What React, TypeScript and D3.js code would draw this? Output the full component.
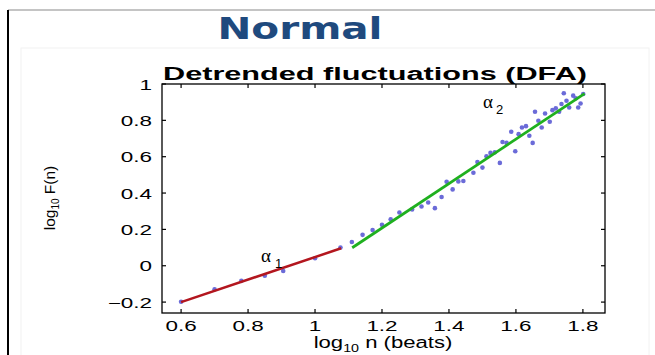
import * as d3 from 'd3';

// log10 n (beats) vs log10 F(n)
const pointsX = [
  0.6, 0.7, 0.78, 0.85, 0.905, 1.0, 1.076, 1.11, 1.142, 1.172, 1.2, 1.226, 1.252, 1.29, 1.318,
  1.338, 1.358, 1.378, 1.393, 1.411, 1.428, 1.443, 1.473, 1.485, 1.5, 1.512, 1.524, 1.537,
  1.552, 1.56, 1.572, 1.586, 1.598, 1.608, 1.618, 1.63, 1.64, 1.65, 1.657, 1.667, 1.677,
  1.687, 1.701, 1.709, 1.719, 1.729, 1.736, 1.743, 1.751, 1.759, 1.771, 1.779, 1.786, 1.793, 1.801,
];
const pointsY = [
  -0.198, -0.13, -0.083, -0.055, -0.029, 0.041, 0.1, 0.131, 0.17, 0.196, 0.225, 0.256, 0.293, 0.31, 0.326,
  0.348, 0.317, 0.378, 0.462, 0.42, 0.464, 0.466, 0.512, 0.571, 0.54, 0.602, 0.621, 0.624,
  0.566, 0.681, 0.676, 0.737, 0.63, 0.724, 0.761, 0.768, 0.715, 0.676, 0.847, 0.798, 0.761,
  0.838, 0.792, 0.856, 0.866, 0.847, 0.89, 0.949, 0.908, 0.871, 0.936, 0.921, 0.871, 0.893, 0.945,
];

// fitted segments
const fit1X = [0.6, 1.078];
const fit1Y = [-0.2, 0.096];
const fit2X = [1.111, 1.805];
const fit2Y = [0.099, 0.947];

const xTicks = [0.6, 0.8, 1, 1.2, 1.4, 1.6, 1.8];
const yTicks = [-0.2, 0, 0.2, 0.4, 0.6, 0.8, 1];

const fmt = (v: number) => {
  if (v === 0 || v === 1) return String(v);
  const s = d3.format('.1f')(Math.abs(v));
  return v < 0 ? '\u2212' + s : s;
};

const SANS = '"Liberation Sans", Arial, sans-serif';

export default function App() {
  const left = 162, right = 605, top = 84, bottom = 313;
  const x = d3.scaleLinear().domain([0.543, 1.866]).range([left, right]);
  const y = d3.scaleLinear().domain([-0.26, 1]).range([bottom, top]);
  const line = d3.line<[number, number]>().x(d => x(d[0])).y(d => y(d[1]));
  const seg1 = fit1X.map((v, i) => [v, fit1Y[i]] as [number, number]);
  const seg2 = fit2X.map((v, i) => [v, fit2Y[i]] as [number, number]);

  return (
    <svg width={655} height={355} style={{ position: 'absolute', left: 0, top: 0, background: '#fff' }}>
      {/* slide frame */}
      <line x1={8} x2={655} y1={10} y2={10} stroke="#c4c4c4" strokeWidth={2} />
      <line x1={8} x2={8} y1={10} y2={355} stroke="#000" strokeWidth={2} />
      <rect x={21} y={48} width={628} height={320} fill="none" stroke="#f2f2f2" />

      <text x={300} y={39} textAnchor="middle" textLength={165} lengthAdjust="spacingAndGlyphs"
        fontFamily='"DejaVu Sans", Verdana, sans-serif' fontWeight="bold" fontSize={31} fill="#1f4a7e">
        Normal
      </text>

      <text x={375} y={80} textAnchor="middle" textLength={424} lengthAdjust="spacingAndGlyphs"
        fontFamily={SANS} fontWeight="bold" fontSize={18} fill="#000">
        Detrended fluctuations (DFA)
      </text>

      {/* data */}
      {pointsX.map((v, i) => (
        <circle key={i} cx={x(v)} cy={y(pointsY[i])} r={2.3} fill="#6b6bd8" />
      ))}
      <path d={line(seg1) ?? ''} stroke="#b3161e" strokeWidth={2.5} fill="none" />
      <path d={line(seg2) ?? ''} stroke="#1fb01f" strokeWidth={2.8} fill="none" />

      {/* axes box with inward ticks */}
      <rect x={left} y={top} width={right - left} height={bottom - top} fill="none" stroke="#000" strokeWidth={1.3} />
      {xTicks.map(t => (
        <g key={'x' + t}>
          <line x1={x(t)} x2={x(t)} y1={bottom} y2={bottom - 4} stroke="#000" strokeWidth={1.2} />
          <line x1={x(t)} x2={x(t)} y1={top} y2={top + 4} stroke="#000" strokeWidth={1.2} />
          <text transform={`translate(${x(t)},331) scale(1.55,1)`} textAnchor="middle" fontFamily={SANS} fontSize={14.5}>{fmt(t)}</text>
        </g>
      ))}
      {yTicks.map(t => (
        <g key={'y' + t}>
          <line x1={left} x2={left + 4} y1={y(t)} y2={y(t)} stroke="#000" strokeWidth={1.2} />
          <line x1={right} x2={right - 4} y1={y(t)} y2={y(t)} stroke="#000" strokeWidth={1.2} />
          <text transform={`translate(152,${y(t) + 5.5}) scale(1.55,1)`} textAnchor="end" fontFamily={SANS} fontSize={14.5}>{fmt(t)}</text>
        </g>
      ))}

      {/* annotations */}
      <text x={261} y={262} fontFamily='"Liberation Serif", serif' fontSize={19}>α</text>
      <text x={275} y={268} fontFamily={SANS} fontSize={13}>1</text>
      <text x={483} y={108} fontFamily='"Liberation Serif", serif' fontSize={19}>α</text>
      <text x={496} y={114} fontFamily={SANS} fontSize={13}>2</text>

      {/* axis labels */}
      <text transform="translate(383,348) scale(1.3,1)" textAnchor="middle" fontFamily={SANS} fontSize={17}>
        log<tspan fontSize={11} dy={4}>10</tspan><tspan dy={-4}> n (beats)</tspan>
      </text>
      <text transform="translate(55,198) rotate(-90)" textAnchor="middle" fontFamily={SANS} fontSize={15.5}>
        log<tspan fontSize={10} dy={4}>10</tspan><tspan dy={-4}> F(n)</tspan>
      </text>
    </svg>
  );
}
